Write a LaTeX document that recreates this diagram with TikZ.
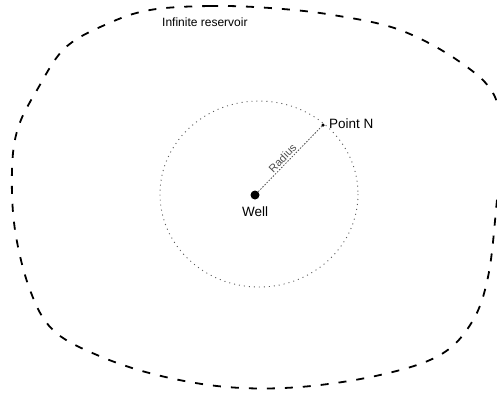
\documentclass[tikz,border=0pt]{standalone}
\usepackage{fontspec}
\setmainfont{Liberation Sans}
\begin{document}
\begin{tikzpicture}[x=1pt,y=-1pt,
  reservoir/.style={line width=1.8pt, dash pattern=on 8pt off 10pt},
  influence/.style={line width=0.9pt, gray!70!black, dash pattern=on 1pt off 4pt},
  radiusline/.style={line width=0.8pt, gray!60!black, dash pattern=on 1.5pt off 1.5pt},
  lbl/.style={font=\fontsize{13.5}{15}\selectfont, inner sep=1pt},
  smalllbl/.style={font=\fontsize{12}{13}\selectfont, inner sep=1pt}]
\useasboundingbox (0,0) rectangle (497,392);
\draw[reservoir] plot[smooth cycle, tension=0.6] coordinates {
 (150,10) (210,6) (270,8) (333,15) (400,30) (460,62) (495,97) (500,150)
 (496,210) (488,277) (472,322) (440,355) (380,375) (300,387) (227,387)
 (157,375) (97,355) (53,330) (30,290) (15,230) (12,170) (18,128) (37,90)
 (65,48) (107,24)};
\node[smalllbl, anchor=west] (res) at (161,22) {Infinite reservoir};
\draw[influence] (259,194) ellipse [x radius=99, y radius=93];
\node[circle, fill, inner sep=0pt, minimum size=9pt] (well) at (255,195) {};
\node[circle, fill, inner sep=0pt, minimum size=3.5pt] (pn) at (323,125) {};
\draw[radiusline] (well) -- node[sloped, above, pos=0.45, font=\fontsize{11}{12}\selectfont, text=gray!60!black, inner sep=1.5pt] {Radius} (pn);
\node[lbl, anchor=north] (welllbl) at (255,206) {Well};
\node[lbl, anchor=west] (pnlbl) at (328,124) {Point N};
\end{tikzpicture}
\end{document}
